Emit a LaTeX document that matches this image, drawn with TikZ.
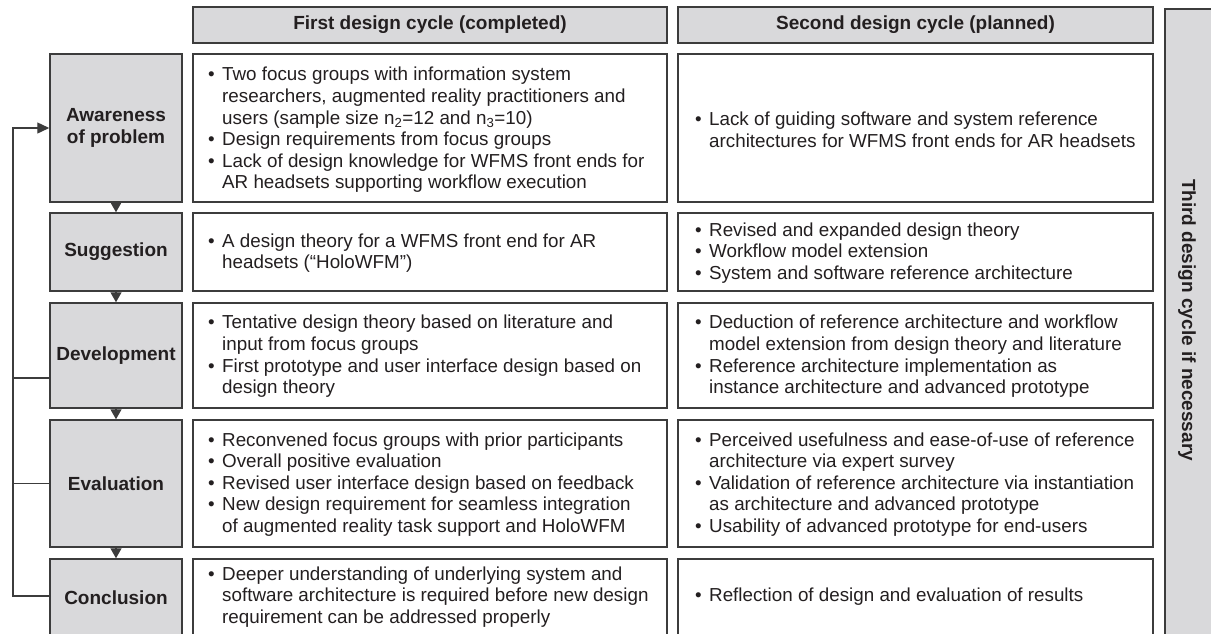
\documentclass[tikz,border=0pt]{standalone}
\usepackage{fontspec}
\setmainfont{Liberation Sans}
\usetikzlibrary{arrows.meta}
\definecolor{boxgray}{HTML}{D9D9DB}
\definecolor{edgegray}{HTML}{3C3C3C}
\definecolor{ink}{HTML}{231F20}
% bullet line and continuation line with hanging indent
\newcommand\bitem[1]{\makebox[14pt][l]{\textbullet}#1}
\newcommand\bcont[1]{\hspace*{14pt}#1}
\begin{document}
\begin{tikzpicture}[x=1pt,y=-1pt,
  every node/.style={text=ink},
  phase/.style={draw=edgegray, fill=boxgray, line width=1.5pt, inner sep=0pt,
    minimum width=132pt, align=center, font=\bfseries\fontsize{19}{22}\selectfont},
  head/.style={draw=edgegray, fill=boxgray, line width=1.5pt, inner sep=0pt,
    minimum height=36pt, font=\bfseries\fontsize{19}{22}\selectfont},
  cell/.style={draw=edgegray, fill=white, line width=1.5pt, inner sep=0pt},
  txt/.style={anchor=west, align=left, inner sep=0pt, font=\fontsize{18.8}{21.6}\selectfont},
  flow/.style={draw=edgegray, line width=1.3pt, -{Triangle[width=11pt,length=10pt]}},
  fb/.style={draw=edgegray, line width=1.4pt}]
\useasboundingbox (0,0) rectangle (1211,633);
\clip (0,0) rectangle (1211,633);

% column headers
\node[head, minimum width=474pt] (h1) at (430,25) {First design cycle (completed)};
\node[head, minimum width=475pt] (h2) at (915.5,25) {Second design cycle (planned)};

% third cycle bar
\node[draw=edgegray, fill=boxgray, line width=1.5pt, inner sep=0pt,
  minimum width=52pt, minimum height=640pt, anchor=north west] (third) at (1164,8) {};
\node[rotate=-90, font=\bfseries\fontsize{19}{22}\selectfont] (thirdlbl) at (1187,320) {Third design cycle if necessary};

% phases of the cycle
\node[phase, minimum height=148pt] (p1) at (116,128) {Awareness\\of problem};
\node[phase, minimum height=78pt] (p2) at (116,252) {Suggestion};
\node[phase, minimum height=105pt] (p3) at (116,355.5) {Development};
\node[phase, minimum height=127pt] (p4) at (116,483.5) {Evaluation};
\node[phase, minimum height=78pt] (p5) at (116,598) {Conclusion};

% cells of the first cycle
\node[cell, minimum width=474pt, minimum height=148pt] (a1) at (430,128) {};
\node[cell, minimum width=474pt, minimum height=78pt] (a2) at (430,252) {};
\node[cell, minimum width=474pt, minimum height=105pt] (a3) at (430,355.5) {};
\node[cell, minimum width=474pt, minimum height=127pt] (a4) at (430,483.5) {};
\node[cell, minimum width=474pt, minimum height=78pt] (a5) at (430,598) {};

% cells of the second cycle
\node[cell, minimum width=475pt, minimum height=148pt] (b1) at (915.5,128) {};
\node[cell, minimum width=475pt, minimum height=78pt] (b2) at (915.5,252) {};
\node[cell, minimum width=475pt, minimum height=105pt] (b3) at (915.5,355.5) {};
\node[cell, minimum width=475pt, minimum height=127pt] (b4) at (915.5,483.5) {};
\node[cell, minimum width=475pt, minimum height=78pt] (b5) at (915.5,598) {};

% texts of the first cycle
\node[txt] (ta1) at (208,130) {\bitem{Two focus groups with information system}\\
  \bcont{researchers, augmented reality practitioners and}\\
  \bcont{users (sample size n\textsubscript{2}=12 and n\textsubscript{3}=10)}\\
  \bitem{Design requirements from focus groups}\\
  \bitem{Lack of design knowledge for WFMS front ends for}\\
  \bcont{AR headsets supporting workflow execution}};
\node[txt] (ta2) at (208,253) {\bitem{A design theory for a WFMS front end for AR}\\
  \bcont{headsets (“HoloWFM”)}};
\node[txt] (ta3) at (208,356.5) {\bitem{Tentative design theory based on literature and}\\
  \bcont{input from focus groups}\\
  \bitem{First prototype and user interface design based on}\\
  \bcont{design theory}};
\node[txt] (ta4) at (208,484.5) {\bitem{Reconvened focus groups with prior participants}\\
  \bitem{Overall positive evaluation}\\
  \bitem{Revised user interface design based on feedback}\\
  \bitem{New design requirement for seamless integration}\\
  \bcont{of augmented reality task support and HoloWFM}};
\node[txt] (ta5) at (208,597) {\bitem{Deeper understanding of underlying system and}\\
  \bcont{software architecture is required before new design}\\
  \bcont{requirement can be addressed properly}};

% texts of the second cycle
\node[txt] (tb1) at (695,130) {\bitem{Lack of guiding software and system reference}\\
  \bcont{architectures for WFMS front ends for AR headsets}};
\node[txt] (tb2) at (695,253) {\bitem{Revised and expanded design theory}\\
  \bitem{Workflow model extension}\\
  \bitem{System and software reference architecture}};
\node[txt] (tb3) at (695,356.5) {\bitem{Deduction of reference architecture and workflow}\\
  \bcont{model extension from design theory and literature}\\
  \bitem{Reference architecture implementation as}\\
  \bcont{instance architecture and advanced prototype}};
\node[txt] (tb4) at (695,484.5) {\bitem{Perceived usefulness and ease-of-use of reference}\\
  \bcont{architecture via expert survey}\\
  \bitem{Validation of reference architecture via instantiation}\\
  \bcont{as architecture and advanced prototype}\\
  \bitem{Usability of advanced prototype for end-users}};
\node[txt] (tb5) at (695,597) {\bitem{Reflection of design and evaluation of results}};

% forward flow between phases
\draw[flow] (p1.south) -- (p2.north);
\draw[flow] (p2.south) -- (p3.north);
\draw[flow] (p3.south) -- (p4.north);
\draw[flow] (p4.south) -- (p5.north);

% feedback rail back to the first phase
\coordinate (railtop) at (13,128);
\coordinate (devout) at (p3.west |- 0,378);
\draw[fb, -{Triangle[width=11pt,length=12pt]}] (p5.west |- 0,596) -| (railtop) -- (p1.west);
\draw[fb] (p4.west) -- (p4.west -| railtop);
\draw[fb] (devout) -- (devout -| railtop);
\end{tikzpicture}
\end{document}
